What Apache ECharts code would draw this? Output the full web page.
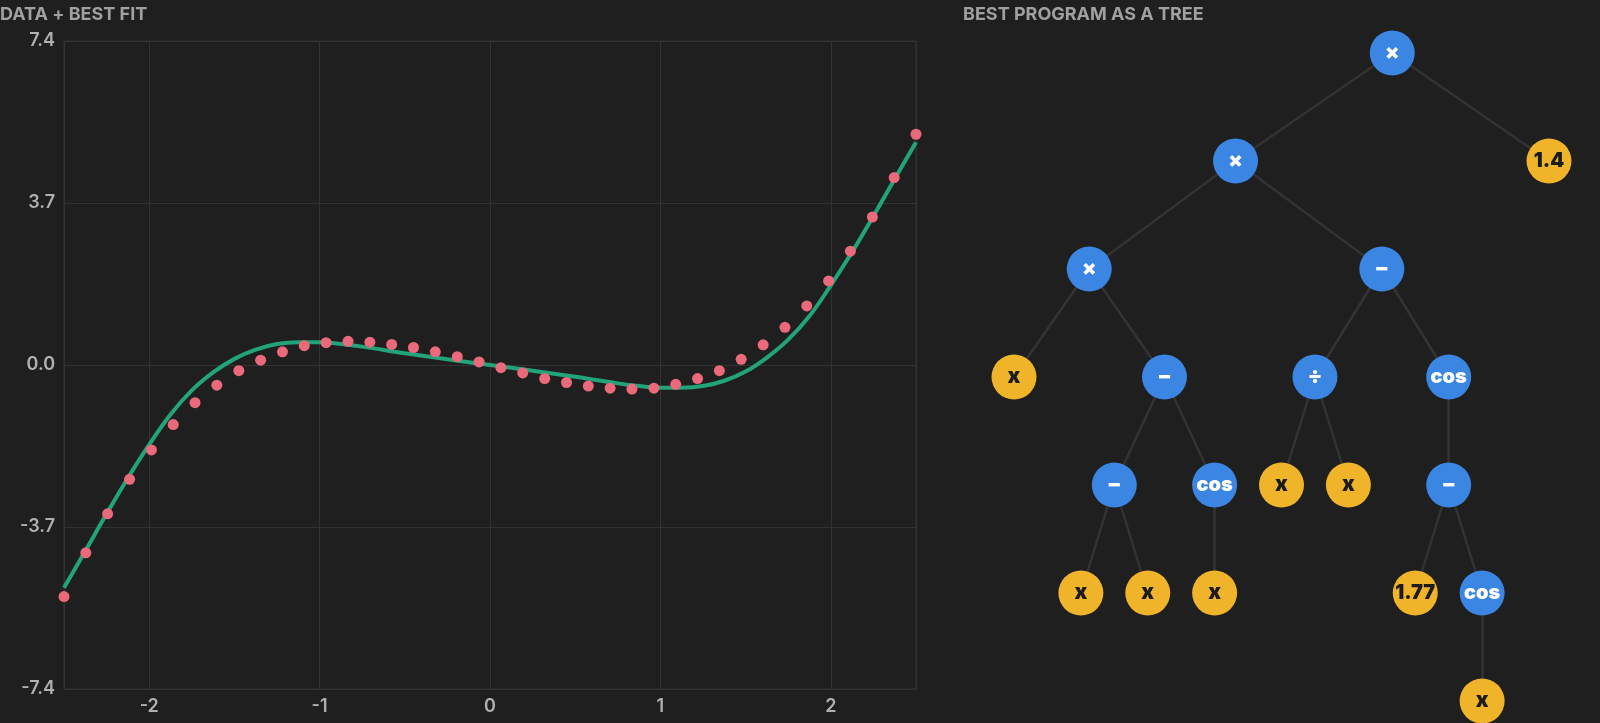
<!DOCTYPE html>
<html>
<head>
<meta charset="utf-8">
<script src="https://cdn.jsdelivr.net/npm/echarts@6/dist/echarts.min.js"></script>
<style>
  html, body { margin: 0; padding: 0; background: #1f1f1f; }
  #chart { width: 1600px; height: 723px; }
</style>
</head>
<body>
<div id="chart"></div>
<script>
// sampled data points
const dataX = [-2.5, -2.372, -2.244, -2.115, -1.987, -1.859, -1.731, -1.603, -1.474, -1.346,
  -1.218, -1.090, -0.962, -0.833, -0.705, -0.577, -0.449, -0.321, -0.192, -0.064,
  0.064, 0.192, 0.321, 0.449, 0.577, 0.705, 0.833, 0.962, 1.090, 1.218,
  1.346, 1.474, 1.603, 1.731, 1.859, 1.987, 2.115, 2.244, 2.372, 2.5]
const dataY = [-5.29, -4.29, -3.40, -2.61, -1.94, -1.36, -0.86, -0.46, -0.13, 0.11,
  0.30, 0.44, 0.51, 0.54, 0.52, 0.47, 0.40, 0.30, 0.19, 0.07,
  -0.06, -0.18, -0.31, -0.40, -0.48, -0.53, -0.55, -0.53, -0.44, -0.31,
  -0.13, 0.13, 0.46, 0.86, 1.35, 1.92, 2.60, 3.38, 4.28, 5.27]

// best fit curve
const fitX = [-2.5, -2.375, -2.25, -2.125, -2.0, -1.875, -1.75, -1.625, -1.5, -1.375,
  -1.25, -1.125, -1.0, -0.875, -0.75, -0.5, -0.25, 0, 0.25, 0.5,
  0.75, 0.875, 1.0, 1.125, 1.25, 1.375, 1.5, 1.625, 1.75, 1.875,
  2.0, 2.125, 2.25, 2.375, 2.5]
const fitY = [-5.09, -4.25, -3.40, -2.58, -1.82, -1.13, -0.58, -0.17, 0.14, 0.35,
  0.48, 0.52, 0.52, 0.48, 0.42, 0.27, 0.13, 0, -0.13, -0.27,
  -0.42, -0.48, -0.52, -0.52, -0.48, -0.36, -0.15, 0.17, 0.58, 1.12,
  1.82, 2.58, 3.40, 4.25, 5.09]

const yTicks = [-7.4, -3.7, 0, 3.7, 7.4]

// program tree, preorder: label + parent index
const treeLabels = ['×', '×', '×', 'x', '−', '−', 'x', 'x', 'cos', 'x',
  '−', '÷', 'x', 'x', 'cos', '−', '1.77', 'cos', 'x', '1.4']
const treeParents = [-1, 0, 1, 2, 2, 4, 5, 5, 4, 8,
  1, 10, 11, 11, 10, 14, 15, 15, 17, 0]

const FONT = 'Inter, "Noto Sans", sans-serif'
const BLUE = '#3a86e2'
const GOLD = '#efb42a'

// simple tidy layout: leaves evenly spaced, parents centred over children
let children = treeLabels.map(() => [])
treeParents.forEach((p, i) => { if (p >= 0) children[p].push(i) })
let pos = []
let leafCount = 0
let place = (i, depth) => {
  if (children[i].length === 0) {
    pos[i] = [leafCount++, depth]
  } else {
    children[i].forEach(c => place(c, depth + 1))
    let xs = children[i].map(c => pos[c][0])
    pos[i] = [(Math.min(...xs) + Math.max(...xs)) / 2, depth]
  }
}
place(0, 0)
let maxDepth = Math.max(...pos.map(p => p[1]))

let nodes = treeLabels.map((lbl, i) => {
  let isOp = children[i].length > 0
  return {
    id: String(i),
    name: lbl,
    value: pos[i],
    itemStyle: { color: isOp ? BLUE : GOLD },
    label: {
      show: true,
      formatter: lbl,
      color: isOp ? '#ffffff' : '#1b1b1b',
      fontSize: lbl.length > 2 ? 20 : 21,
      fontWeight: 900,
      fontFamily: FONT
    }
  }
})
let links = []
treeParents.forEach((p, i) => { if (p >= 0) links.push({ source: p, target: i }) })

let chart = echarts.init(document.getElementById('chart'), null, { renderer: 'canvas' })

chart.setOption({
  backgroundColor: '#1f1f1f',
  animation: false,
  title: [
    { text: 'DATA + BEST FIT', left: 0, top: 6, padding: 0, textStyle: { color: '#a0a0a0', fontSize: 18, fontWeight: 700, fontFamily: FONT } },
    { text: 'BEST PROGRAM AS A TREE', left: 963, top: 6, padding: 0, textStyle: { color: '#a0a0a0', fontSize: 18, fontWeight: 700, fontFamily: FONT } }
  ],
  grid: [
    { left: 64, top: 41, width: 852, height: 648, show: true, borderColor: '#323232', borderWidth: 1 },
    { left: 1014, top: 53, width: 535, height: 648 }
  ],
  xAxis: [
    {
      type: 'value', min: -2.5, max: 2.5, splitNumber: 5,
      axisLine: { show: false }, axisTick: { show: false },
      splitLine: { lineStyle: { color: '#323232', width: 1 } },
      axisLabel: {
        color: '#b0b0b0', fontSize: 18, fontWeight: 600, fontFamily: FONT, margin: 9,
        formatter: v => Number.isInteger(v) ? String(v) : ''
      }
    },
    { gridIndex: 1, type: 'value', min: 0, max: leafCount - 1, show: false }
  ],
  yAxis: [
    {
      type: 'value', min: yTicks[0], max: yTicks[yTicks.length - 1], interval: 3.7,
      axisLine: { show: false }, axisTick: { show: false },
      splitLine: { lineStyle: { color: '#323232', width: 1 } },
      axisLabel: {
        color: '#b0b0b0', fontSize: 18, fontWeight: 600, fontFamily: FONT, margin: 9,
        formatter: v => v.toFixed(1)
      }
    },
    { gridIndex: 1, type: 'value', min: 0, max: maxDepth, inverse: true, show: false }
  ],
  series: [
    {
      type: 'line',
      data: fitX.map((x, i) => [x, fitY[i]]),
      smooth: 0.4,
      showSymbol: false,
      lineStyle: { color: '#22a37a', width: 4 },
      silent: true,
      z: 2
    },
    {
      type: 'scatter',
      data: dataX.map((x, i) => [x, dataY[i]]),
      symbolSize: 11,
      itemStyle: { color: '#ea6a7c', opacity: 1 },
      clip: false,
      silent: true,
      z: 3
    },
    {
      type: 'graph',
      coordinateSystem: 'cartesian2d',
      xAxisIndex: 1,
      yAxisIndex: 1,
      symbolSize: 45,
      data: nodes,
      links: links,
      lineStyle: { color: '#333333', width: 2.5, opacity: 1, curveness: 0 },
      label: { show: true, position: 'inside' },
      emphasis: { disabled: true },
      silent: true
    }
  ]
})
</script>
</body>
</html>
